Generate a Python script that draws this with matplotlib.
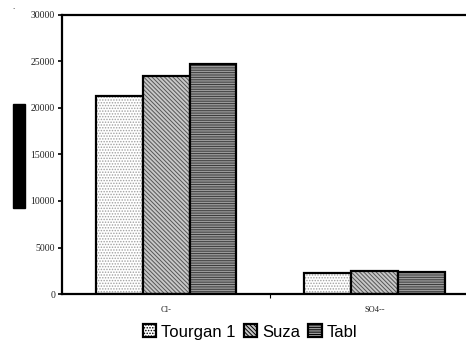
import matplotlib
matplotlib.use('Agg')
import matplotlib.pyplot as plt
from matplotlib.patches import Rectangle
import numpy as np

# ion concentrations per site
ions = ['Cl-', 'SO4--']
sites = ['Tourgan 1', 'Suza', 'Tabl']
tourgan = [21250, 2230]
suza = [23480, 2500]
tabl = [24750, 2370]

face = ['white', '#c8c8c8', '#9a9a9a']
hatch_col = ['#a0a0a0', '#555555', '#3a3a3a']
hatches = ['......', '\\\\\\\\\\\\\\\\', '-------']

plt.rcParams['hatch.linewidth'] = 0.7

fig = plt.figure(figsize=(4.66, 3.41), dpi=100)
# axes runs past the right edge of the figure
ax = fig.add_axes([62 / 466, 1 - 294 / 341, 416.5 / 466, 279 / 341])

x = np.arange(len(ions))
w = 0.2245
handles = []
for i, vals in enumerate([tourgan, suza, tabl]):
    pos = x + (i - 1) * w
    ax.bar(pos, vals, w, color=face[i], edgecolor=hatch_col[i], hatch=hatches[i], linewidth=0)
    ax.bar(pos, vals, w, fill=False, edgecolor='black', linewidth=1.6)
    handles.append(Rectangle((0, 0), 1, 1, facecolor=face[i], edgecolor='black',
                             hatch=hatches[i], linewidth=1.6))

ax.set_xlim(-0.5, 1.5)
ax.set_ylim(0, 30000)
ax.set_yticks(np.arange(0, 30001, 5000))
ax.set_yticklabels([str(v) for v in range(0, 30001, 5000)], family='Liberation Serif',
                   fontsize=7, color='#222222')
ax.set_xticks(x)
ax.set_xticklabels(ions, family='Liberation Serif', fontsize=6, color='#222222')
ax.set_xticks([0.5], minor=True)
ax.tick_params(axis='x', which='major', length=0, pad=9)
ax.tick_params(axis='x', which='minor', length=3, width=0.8, direction='out')
ax.tick_params(axis='y', length=3, width=1.2, pad=2)

for side in ['left', 'top', 'bottom']:
    ax.spines[side].set_linewidth(1.6)
ax.spines['right'].set_visible(False)

fig.text(19 / 466, 1 - 156 / 341, 'Concentration (mg/l)', rotation=90, fontsize=7,
         color='black', ha='center', va='center',
         bbox=dict(facecolor='black', edgecolor='black', pad=0.6))
fig.text(13 / 466, 1 - 7 / 341, '.', fontsize=5, ha='center', va='center')

leg = fig.legend(handles, sites, loc='center', bbox_to_anchor=(250 / 466, 1 - 332 / 341),
                 ncol=3, frameon=False, handlelength=0.8, handleheight=0.8,
                 handletextpad=0.3, columnspacing=0.5, borderaxespad=0,
                 prop={'family': 'Liberation Sans', 'size': 12})

fig.savefig('out.png', dpi=100)
